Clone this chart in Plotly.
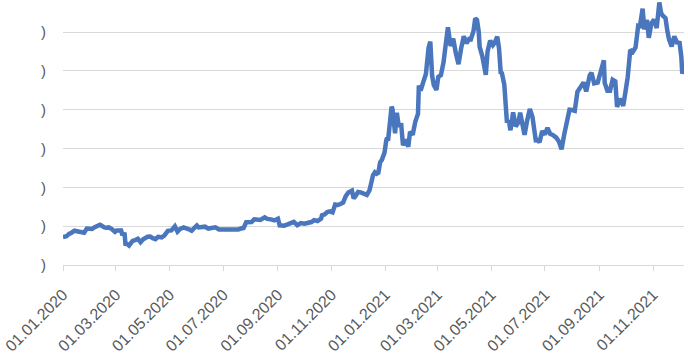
import plotly.graph_objects as go

dates = [
 "2020-01-01","2020-01-05","2020-01-08","2020-01-10","2020-01-14","2020-01-15","2020-01-19","2020-01-22","2020-01-25","2020-01-28","2020-01-31",
 "2020-02-03","2020-02-06","2020-02-09","2020-02-12","2020-02-13","2020-02-15","2020-02-17","2020-02-19","2020-02-22","2020-02-25","2020-02-27","2020-02-29",
 "2020-03-02","2020-03-05","2020-03-07","2020-03-08","2020-03-09","2020-03-11","2020-03-12","2020-03-13","2020-03-16","2020-03-19","2020-03-20","2020-03-23","2020-03-26","2020-03-29",
 "2020-04-01","2020-04-06","2020-04-09","2020-04-12","2020-04-15","2020-04-18","2020-04-22","2020-04-25","2020-04-29",
 "2020-05-03","2020-05-07","2020-05-10","2020-05-13","2020-05-17","2020-05-20","2020-05-23","2020-05-26","2020-05-29",
 "2020-06-01","2020-06-03","2020-06-07","2020-06-10","2020-06-14","2020-06-18","2020-06-22","2020-06-26","2020-06-30",
 "2020-07-03","2020-07-07","2020-07-10","2020-07-14","2020-07-18","2020-07-21","2020-07-24","2020-07-27","2020-07-30",
 "2020-08-02","2020-08-05","2020-08-09","2020-08-12","2020-08-17","2020-08-20","2020-08-24","2020-08-28",
 "2020-09-01","2020-09-03","2020-09-05","2020-09-08","2020-09-12","2020-09-16","2020-09-19","2020-09-23","2020-09-27",
 "2020-10-01","2020-10-05","2020-10-09","2020-10-12","2020-10-16","2020-10-20","2020-10-21","2020-10-24","2020-10-27","2020-10-30",
 "2020-11-02","2020-11-05","2020-11-08","2020-11-11","2020-11-14","2020-11-17","2020-11-20","2020-11-24","2020-11-26","2020-11-28",
 "2020-12-01","2020-12-04","2020-12-08","2020-12-11","2020-12-14","2020-12-16","2020-12-18","2020-12-20","2020-12-22","2020-12-24","2020-12-26","2020-12-28","2020-12-31",
 "2021-01-02","2021-01-03","2021-01-04","2021-01-06","2021-01-08","2021-01-09","2021-01-11","2021-01-12","2021-01-14","2021-01-16","2021-01-19","2021-01-21","2021-01-24","2021-01-27","2021-01-29",
 "2021-02-01","2021-02-04","2021-02-07","2021-02-08","2021-02-10","2021-02-13","2021-02-16","2021-02-19","2021-02-21","2021-02-23","2021-02-25","2021-02-28",
 "2021-03-02","2021-03-05","2021-03-08","2021-03-10","2021-03-13","2021-03-16","2021-03-19","2021-03-22","2021-03-25","2021-03-28","2021-03-31",
 "2021-04-03","2021-04-06","2021-04-08","2021-04-11","2021-04-13","2021-04-15","2021-04-17","2021-04-18","2021-04-21","2021-04-23","2021-04-25","2021-04-27","2021-04-30",
 "2021-05-03","2021-05-05","2021-05-08","2021-05-10","2021-05-12","2021-05-13","2021-05-16","2021-05-19","2021-05-21","2021-05-23","2021-05-26","2021-05-29",
 "2021-06-01","2021-06-03","2021-06-06","2021-06-08","2021-06-11","2021-06-14","2021-06-17","2021-06-21","2021-06-22","2021-06-25","2021-06-28",
 "2021-07-01","2021-07-04","2021-07-07","2021-07-10","2021-07-14","2021-07-17","2021-07-20","2021-07-23","2021-07-26","2021-07-29",
 "2021-08-01","2021-08-04","2021-08-07","2021-08-10","2021-08-14","2021-08-17","2021-08-21","2021-08-23","2021-08-26","2021-08-30",
 "2021-09-02","2021-09-06","2021-09-07","2021-09-10","2021-09-13","2021-09-16","2021-09-19","2021-09-21","2021-09-24","2021-09-28","2021-09-30",
 "2021-10-03","2021-10-06","2021-10-09","2021-10-12","2021-10-15","2021-10-17","2021-10-20","2021-10-22","2021-10-25","2021-10-27","2021-10-30",
 "2021-11-02","2021-11-05","2021-11-08","2021-11-10","2021-11-12","2021-11-15","2021-11-17","2021-11-19","2021-11-22","2021-11-25","2021-11-28",
 "2021-12-01","2021-12-03","2021-12-04","2021-12-06",
]

prices = [
 7200,7400,8050,8190,8820,8800,8700,8650,8330,9380,9350,
 9290,9750,10160,10370,10240,9890,9700,9600,9680,9320,8790,8560,
 8910,9080,8900,8040,7920,7910,4970,5560,5020,6190,6200,6420,6760,5880,
 6640,7270,7300,6910,6640,7260,7130,7550,8790,
 8900,9960,8600,9270,9670,9520,9180,8840,9430,
 10170,9670,9750,9870,9390,9410,9690,9170,9140,
 9090,9250,9280,9250,9170,9390,9540,11010,11100,
 11070,11750,11680,11580,12250,11870,11750,11480,
 11920,10200,10170,10130,10450,10940,11090,10240,10780,
 10620,10790,11060,11550,11320,11920,12820,13030,13650,13800,
 13560,15590,15480,15700,16070,17730,18680,19170,17150,17720,
 18800,18700,18330,18040,19250,21310,23150,23870,23480,23730,26440,27080,28950,
 32130,32780,31970,36770,40780,40250,35570,33920,39190,36010,36030,30820,32290,30430,34320,
 33530,36950,38900,46200,44900,47100,49200,55900,57500,48800,46300,45100,
 48400,48900,52200,55900,61200,56400,58300,54500,51700,55800,58900,
 57100,58200,58100,60200,63500,63100,60000,56200,53800,51200,49000,55000,57800,
 56600,57200,58800,55800,49200,49700,46400,36700,37300,34700,39300,35700,
 36700,39200,35800,33500,37300,40200,38100,31600,32500,31600,34500,
 33600,35300,33800,33500,32800,31800,29800,33600,37300,40000,
 39900,39700,44600,45600,47000,44700,48900,49500,46800,47000,
 49300,52700,46900,44900,44900,47700,47300,40700,42800,41000,43800,
 48200,55400,54900,56000,61600,61500,66000,60700,63100,58500,62200,
 63200,61000,67600,64900,64200,63600,60400,58100,56300,58900,57300,
 57200,53600,49300,50600,
]

tick_dates = ["2020-01-01","2020-03-01","2020-05-01","2020-07-01","2020-09-01","2020-11-01",
              "2021-01-01","2021-03-01","2021-05-01","2021-07-01","2021-09-01","2021-11-01"]
tick_labels = ["01.01.2020","01.03.2020","01.05.2020","01.07.2020","01.09.2020","01.11.2020",
               "01.01.2021","01.03.2021","01.05.2021","01.07.2021","01.09.2021","01.11.2021"]
y_ticks = [0, 10000, 20000, 30000, 40000, 50000, 60000]
y_labels = [")", ")", ")", ")", ")", ")", ")"]

fig = go.Figure()
fig.add_trace(go.Scatter(x=dates, y=prices, mode="lines",
                         line=dict(color="#4A76BE", width=4.5), hoverinfo="skip"))

font = dict(family="Liberation Sans, Arial, sans-serif", size=16, color="#595959")
fig.update_layout(
    width=688, height=357,
    margin=dict(l=63, r=4, t=0, b=92),
    paper_bgcolor="white", plot_bgcolor="white",
    showlegend=False,
    font=font,
)
fig.update_xaxes(
    type="date", range=["2020-01-01", "2021-12-06"], automargin=False,
    tickmode="array", tickvals=tick_dates, ticktext=tick_labels,
    tickangle=-45, ticks="outside", ticklen=5, tickcolor="#D9D9D9",
    showline=True, linecolor="#D9D9D9", linewidth=1,
    showgrid=False, zeroline=False, tickfont=font, ticklabelstandoff=8,
)
fig.update_yaxes(
    range=[0, 68240], tickmode="array", tickvals=y_ticks, ticktext=y_labels,
    showgrid=True, gridcolor="#D9D9D9", gridwidth=1, zeroline=False, automargin=False,
    showline=False, ticks="", ticklabelstandoff=16, tickfont=dict(family=font["family"], size=15, color="#595959"),
)
fig.write_html("out.html", config={"displayModeBar": False},
               post_script="document.body.style.margin='0';document.body.style.overflow='hidden';")
